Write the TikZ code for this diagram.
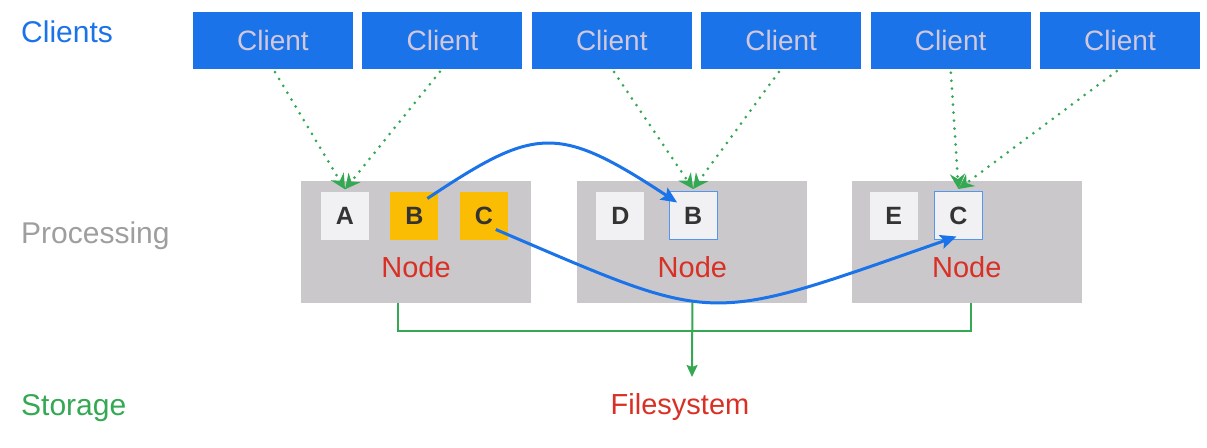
\documentclass[tikz,border=0pt]{standalone}
\usepackage{fontspec}
\setmainfont{Liberation Sans}
\usepackage{tikz}
\usetikzlibrary{arrows.meta,positioning}
\definecolor{gblue}{HTML}{1A73E8}
\definecolor{gred}{HTML}{D93025}
\definecolor{ggreen}{HTML}{34A853}
\definecolor{gyellow}{HTML}{FBBC04}
\definecolor{slab}{HTML}{CAC8CB}
\definecolor{cell}{HTML}{F1F1F3}
\definecolor{ink}{HTML}{333333}
\definecolor{mute}{HTML}{9E9E9E}
\definecolor{lilac}{HTML}{D2C8DC}

\begin{document}
\begin{tikzpicture}[
    x=1pt, y=-1pt,
    node distance=9pt,
    client/.style={fill=gblue, draw=none, minimum width=160pt, minimum height=57pt,
                   inner sep=0pt, text=lilac, font=\fontsize{28}{32}\selectfont},
    slabbox/.style={fill=slab, draw=none, minimum width=230pt, minimum height=122pt, inner sep=0pt},
    cellbox/.style={fill=cell, draw=none, minimum width=48pt, minimum height=48pt, inner sep=0pt,
                    text=ink, font=\fontsize{25}{28}\selectfont\bfseries},
    hot/.style={cellbox, fill=gyellow},
    replica/.style={cellbox, draw=gblue!75, line width=1pt},
    tier/.style={anchor=base west, inner sep=0pt, font=\fontsize{30}{34}\selectfont},
    tag/.style={anchor=base, inner sep=0pt, text=gred, font=\fontsize{29}{34}\selectfont},
    req/.style={-{Stealth[length=15pt,width=15pt,inset=5pt]}, draw=ggreen, line width=3pt,
                dash pattern=on 0pt off 8pt, line cap=round, shorten <=4pt},
    move/.style={-{Stealth[length=16pt,width=14pt,inset=3pt]}, draw=gblue, line width=3pt},
    store/.style={draw=ggreen, line width=2pt}
  ]
  \useasboundingbox (0,0) rectangle (1207,447);

  %%%%%%%%%%%%% Left: tier labels %%%%%%%%%%%%%
  \node[tier, text=gblue] (lclients) at (21,42) {Clients};
  \node[tier, text=mute] (lproc) at (21,243) {Processing};
  \node[tier, text=ggreen] (lstore) at (21,415) {Storage};

  %%%%%%%%%%%%% Top: Clients %%%%%%%%%%%%%
  \node[client] (c1) at (273,40) {Client};
  \node[client, right=of c1] (c2) {Client};
  \node[client, right=of c2] (c3) {Client};
  \node[client, right=of c3] (c4) {Client};
  \node[client, right=of c4] (c5) {Client};
  \node[client, right=of c5] (c6) {Client};

  %%%%%%%%%%%%% Middle: Processing nodes %%%%%%%%%%%%%
  \node[slabbox] (n1) at (416,241.5) {};
  \node[slabbox, right=46pt of n1] (n2) {};
  \node[slabbox, right=44pt of n2] (n3) {};

  \node[cellbox, below right=11pt and 20pt of n1.north west] (a) {A};
  \node[hot, right=21pt of a] (b) {B};
  \node[hot, right=21pt of b] (c) {C};
  \node[cellbox, below right=11pt and 19pt of n2.north west] (d) {D};
  \node[replica, right=24pt of d] (bcopy) {B};
  \node[cellbox, below right=11pt and 18pt of n3.north west] (e) {E};
  \node[replica, right=16pt of e] (ccopy) {C};

  \node[tag] (t1) at ([yshift=-36pt]n1.center) {Node};
  \node[tag] (t2) at ([yshift=-36pt]n2.center) {Node};
  \node[tag] (t3) at ([yshift=-36pt]n3.center) {Node};

  %%%%%%%%%%%%% Bottom: Storage %%%%%%%%%%%%%
  \node[tag] (fs) at (680,414) {Filesystem};
  \coordinate (bus) at (692,331);
  \coordinate (drop) at (692,377);
  \draw[store] ([xshift=-18pt]n1.south) |- (bus) -| ([xshift=4pt]n3.south);
  \draw[store, -{Stealth[length=12pt,width=11pt,inset=2pt]}] (n2.south) -- (drop);

  %%%%%%%%%%%%% Moves between nodes %%%%%%%%%%%%%
  \draw[move] ([shift={(13pt,17pt)}]b.center) .. controls +(108,-72) and +(-120,-79) .. ([shift={(-16pt,13pt)}]bcopy.center);
  \draw[move] ([shift={(12pt,-14pt)}]c.center) .. controls +(225,96) and +(-255,89) .. ([shift={(-2pt,-21pt)}]ccopy.center);

  %%%%%%%%%%%%% Requests: Clients -> Nodes %%%%%%%%%%%%%
  \draw[req] (c1.south) -- ([yshift=2pt]a.north);
  \draw[req] (c2.south) -- ([yshift=2pt]a.north);
  \draw[req] (c3.south) -- ([yshift=2pt]bcopy.north);
  \draw[req] (c4.south) -- ([yshift=2pt]bcopy.north);
  \draw[req] (c5.south) -- ([yshift=2pt]ccopy.north);
  \draw[req] (c6.south) -- ([yshift=2pt]ccopy.north);

\end{tikzpicture}
\end{document}
